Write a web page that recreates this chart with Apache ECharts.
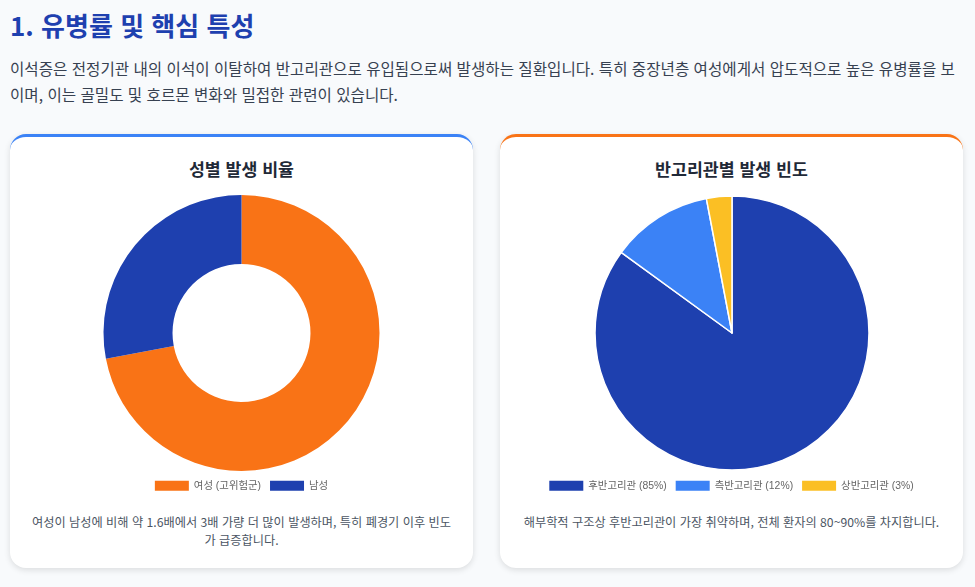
<!DOCTYPE html>
<html lang="ko"><head><meta charset="utf-8">
<script src="https://cdn.jsdelivr.net/npm/echarts@6/dist/echarts.min.js"></script>
<style>
html,body{margin:0;padding:0;width:975px;height:587px;overflow:hidden;background:#f8fafc;font-family:"Noto Sans CJK KR","Noto Sans",sans-serif}
h1{position:absolute;left:10px;top:7px;margin:0;font-size:26px;line-height:36px;font-weight:700;color:#1e40af}
.intro{position:absolute;left:10px;top:55px;width:950px;margin:0;font-size:15.6px;line-height:26px;color:#374151}
.card{position:absolute;top:134px;width:463px;height:434px;box-sizing:border-box;background:#fff;border-radius:16px;border-top:3px solid;box-shadow:0 2px 6px rgba(0,0,0,.12)}
.card h3{position:absolute;left:0;right:0;top:19px;margin:0;text-align:center;font-size:17.3px;line-height:26px;font-weight:700;color:#1f2937}
.chart{position:absolute;left:0;top:50px;width:463px;height:320px}
.note{position:absolute;left:20px;right:20px;top:377px;margin:0;text-align:center;font-size:12.2px;line-height:17.5px;color:#4b5563}
</style></head><body>
<h1>1. 유병률 및 핵심 특성</h1>
<p class="intro">이석증은 전정기관 내의 이석이 이탈하여 반고리관으로 유입됨으로써 발생하는 질환입니다. 특히 중장년층 여성에게서 압도적으로 높은 유병률을 보이며, 이는 골밀도 및 호르몬 변화와 밀접한 관련이 있습니다.</p>
<div class="card" style="left:10px;border-top-color:#3b82f6"><h3>성별 발생 비율</h3><div class="chart" id="c1"></div>
<p class="note">여성이 남성에 비해 약 1.6배에서 3배 가량 더 많이 발생하며, 특히 폐경기 이후 빈도가 급증합니다.</p></div>
<div class="card" style="left:500px;border-top-color:#f97316"><h3>반고리관별 발생 빈도</h3><div class="chart" id="c2"></div>
<p class="note">해부학적 구조상 후반고리관이 가장 취약하며, 전체 환자의 80~90%를 차지합니다.</p></div>
<script>
const genderLabels = ["여성 (고위험군)", "남성"];
const genderValues = [72, 28];
const genderColors = ["#f97316", "#1e40af"];
const canalLabels = ["후반고리관 (85%)", "측반고리관 (12%)", "상반고리관 (3%)"];
const canalValues = [85, 12, 3];
const canalColors = ["#1e40af", "#3b82f6", "#fbbf24"];
function build(id, labels, values, colors, radius, cx, border){
  const chart = echarts.init(document.getElementById(id), null, {renderer:"canvas"});
  chart.setOption({
    animation:false,
    color:colors,
    legend:{bottom:11,left:"center",itemWidth:34,itemHeight:10,itemGap:9,itemStyle:{borderWidth:0},icon:"rect",
      textStyle:{fontSize:10.4,color:"#666",fontFamily:'"Liberation Sans","Noto Sans CJK KR",sans-serif'},data:labels},
    series:[{type:"pie",radius:radius,center:[cx,146],startAngle:90,clockwise:true,
      label:{show:false},labelLine:{show:false},
      itemStyle:{borderColor:"#fff",borderWidth:border},
      data:labels.map((n,i)=>({name:n,value:values[i]}))}]
  });
}
build("c1",genderLabels,genderValues,genderColors,[69,138],231.5,0);
build("c2",canalLabels,canalValues,canalColors,[0,137],232,1.5);
</script></body></html>
